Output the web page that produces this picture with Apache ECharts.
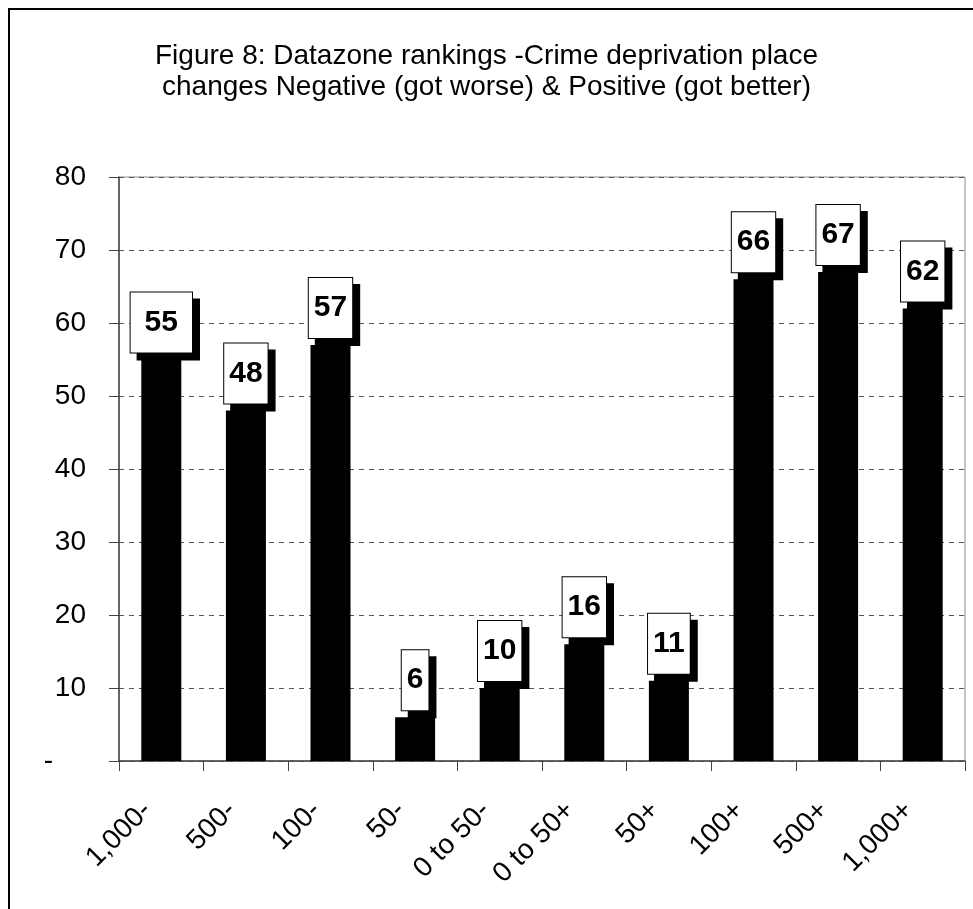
<!DOCTYPE html>
<html>
<head>
<meta charset="utf-8">
<script src="https://cdn.jsdelivr.net/npm/echarts@6/dist/echarts.min.js"></script>
<style>
  html, body { margin: 0; padding: 0; background: #fff; }
  #wrap { position: relative; width: 973px; height: 909px; overflow: hidden; }
  #frame { position: absolute; left: 8px; top: 8px; width: 1000px; height: 1000px; border-left: 2px solid #000; border-top: 2px solid #000; box-sizing: border-box; pointer-events: none; }
  #chart { position: absolute; left: 0; top: 0; width: 973px; height: 909px; }
</style>
</head>
<body>
<div id="wrap">
  <div id="chart"></div>
  <div id="frame"></div>
</div>
<script>
const titleLines = [
  'Figure 8: Datazone rankings -Crime deprivation place',
  'changes Negative (got worse) & Positive (got better)'
];
const categories = ['1,000-', '500-', '100-', '50-', '0 to 50-', '0 to 50+', '50+', '100+', '500+', '1,000+'];
const counts = [55, 48, 57, 6, 10, 16, 11, 66, 67, 62];
const yTicks = [0, 10, 20, 30, 40, 50, 60, 70, 80];

const FONT = '"Liberation Sans", Arial, sans-serif';
const chart = echarts.init(document.getElementById('chart'), null, { renderer: 'canvas' });

chart.setOption({
  animation: false,
  backgroundColor: '#fff',
  title: {
    text: titleLines.join('\n'),
    left: 'center',
    top: 36,
    textStyle: { fontFamily: FONT, fontSize: 28, fontWeight: 'normal', color: '#000', lineHeight: 31 }
  },
  grid: {
    left: 119, right: 8, top: 177, bottom: 148,
    show: true, borderColor: '#8c8c8c', borderWidth: 1, backgroundColor: 'transparent'
  },
  xAxis: {
    type: 'category',
    data: categories,
    boundaryGap: true,
    axisLine: { show: true, lineStyle: { color: '#444', width: 1.5 } },
    axisTick: { show: true, length: 10, inside: false, alignWithLabel: false, lineStyle: { color: '#444' } },
    axisLabel: {
      rotate: 45, interval: 0, margin: 31, padding: [0, 20, 0, 0],
      fontFamily: FONT, fontSize: 28, color: '#000'
    },
    splitLine: { show: false }
  },
  yAxis: {
    type: 'value',
    min: yTicks[0], max: yTicks[yTicks.length - 1], interval: 10,
    axisLine: { show: true, lineStyle: { color: '#444', width: 1.5 } },
    axisTick: { show: true, length: 10, lineStyle: { color: '#444' } },
    axisLabel: {
      margin: 33, fontFamily: FONT, fontSize: 28, color: '#000',
      formatter: function (v) { return v === 0 ? '{d|-}' : String(v); },
      rich: { d: { fontFamily: FONT, fontSize: 28, color: '#000', padding: [0, 33, 0, 0] } }
    },
    splitLine: { show: true, lineStyle: { color: '#555', type: [5, 5], width: 1 } }
  },
  series: [{
    type: 'bar',
    data: counts.map(function (v, i) {
      return i === 0 ? { value: v, label: { padding: [15, 14] } } : v;
    }),
    barWidth: 40,
    itemStyle: { color: '#000' },
    label: {
      show: true,
      position: 'top',
      distance: 7,
      fontFamily: FONT, fontSize: 30, fontWeight: 'bold', color: '#000',
      lineHeight: 30,
      backgroundColor: '#fff',
      borderColor: '#000', borderWidth: 1,
      padding: [15, 5],
      shadowColor: '#000', shadowBlur: 0, shadowOffsetX: 7, shadowOffsetY: 7
    }
  }]
});
</script>
</body>
</html>
